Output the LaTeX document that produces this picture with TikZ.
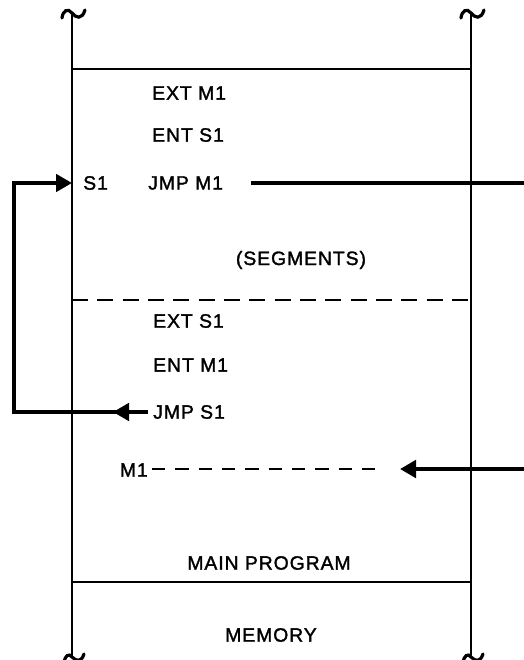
\documentclass[tikz,border=0pt]{standalone}
\usepackage{fontspec}
\setmainfont{Liberation Sans}[LetterSpace=5, FakeBold=1.6]
\usetikzlibrary{arrows.meta}
\begin{document}
\begin{tikzpicture}[x=0.75pt,y=-0.75pt,
  txt/.style={inner sep=0pt, font=\fontsize{14.5}{17}\selectfont},
  wall/.style={line width=2pt},
  brk/.style={line width=2.4pt, line cap=round},
  sep/.style={line width=2pt},
  dsep/.style={line width=1.8pt, dash pattern=on 12pt off 7pt},
  heavy/.style={line width=3.3pt},
  bracket/.style={line width=2.8pt},
  mdash/.style={line width=1.7pt, dash pattern=on 10pt off 7.5pt},
  tip/.style={-{Triangle[length=12pt,width=13pt]}}
]
\useasboundingbox (0,0) rectangle (524,660);

% memory walls
\coordinate (lt) at (72,13);
\coordinate (lb) at (72,656);
\coordinate (rt) at (471,13);
\coordinate (rb) at (471,656);
\draw[wall] (lt) -- (lb);
\draw[wall] (rt) -- (rb);
% break marks
\foreach \xx in {72,471}{
  \draw[brk] (\xx-10,18) .. controls (\xx-9,10) and (\xx-4,8) .. (\xx,13)
     .. controls (\xx+4,18) and (\xx+10,20) .. (\xx+13,10);
  \draw[brk] (\xx-8,663) .. controls (\xx-7,655) and (\xx-3,653) .. (\xx,657)
     .. controls (\xx+4,661) and (\xx+9,663) .. (\xx+12,654);
}

% horizontal boundaries
\coordinate (t1) at (72,69);  \coordinate (t2) at (471,69);
\coordinate (s1a) at (72,300); \coordinate (s2a) at (471,300);
\coordinate (b1) at (72,582); \coordinate (b2) at (471,582);
\draw[sep] (t1) -- (t2);
\draw[dsep] (s1a) -- (s2a);
\draw[sep] (b1) -- (b2);

% texts
\node[txt, anchor=west] (extm1) at (152,93) {EXT M1};
\node[txt, anchor=west] (ents1) at (152,135) {ENT S1};
\node[txt, anchor=west] (s1) at (83,183) {S1};
\node[txt, anchor=west] (jmpm1) at (148,183) {JMP M1};
\node[txt] (segments) at (301,260) {(SEGMENTS)};
\node[txt, anchor=west] (exts1) at (153,321) {EXT S1};
\node[txt, anchor=west] (entm1) at (153,365) {ENT M1};
\node[txt, anchor=west] (jmps1) at (153,412) {JMP S1};
\node[txt, anchor=east] (m1) at (148,470) {M1};
\node[txt] (mainprog) at (269,563) {MAIN PROGRAM};
\node[txt] (memory) at (271,635) {MEMORY};

% jump out to main program
\coordinate (o1) at (251,183);
\coordinate (o2) at (524,183);
\draw[heavy] (o1) -- (o2);

% jump into main program at M1
\coordinate (i1) at (524,469);
\coordinate (i2) at (400,469);
\draw[heavy, tip] (i1) -- (i2);
\coordinate (d1) at (152,469);
\coordinate (d2) at (378,469);
\draw[mdash] (d1) -- (d2);

% jump from main program back to segment S1
\coordinate (js) at (148,412);
\coordinate (jh) at (113,412);
\coordinate (bl) at (14,412);
\coordinate (tl) at (14,183);
\coordinate (s1tip) at (72,183);
\draw[bracket, line join=miter] (js) -- (bl) -- (tl) -- ++(40,0);
\draw[bracket, tip] (tl) -- (s1tip);
\draw[bracket, tip] (js) -- (jh);
\end{tikzpicture}
\end{document}
